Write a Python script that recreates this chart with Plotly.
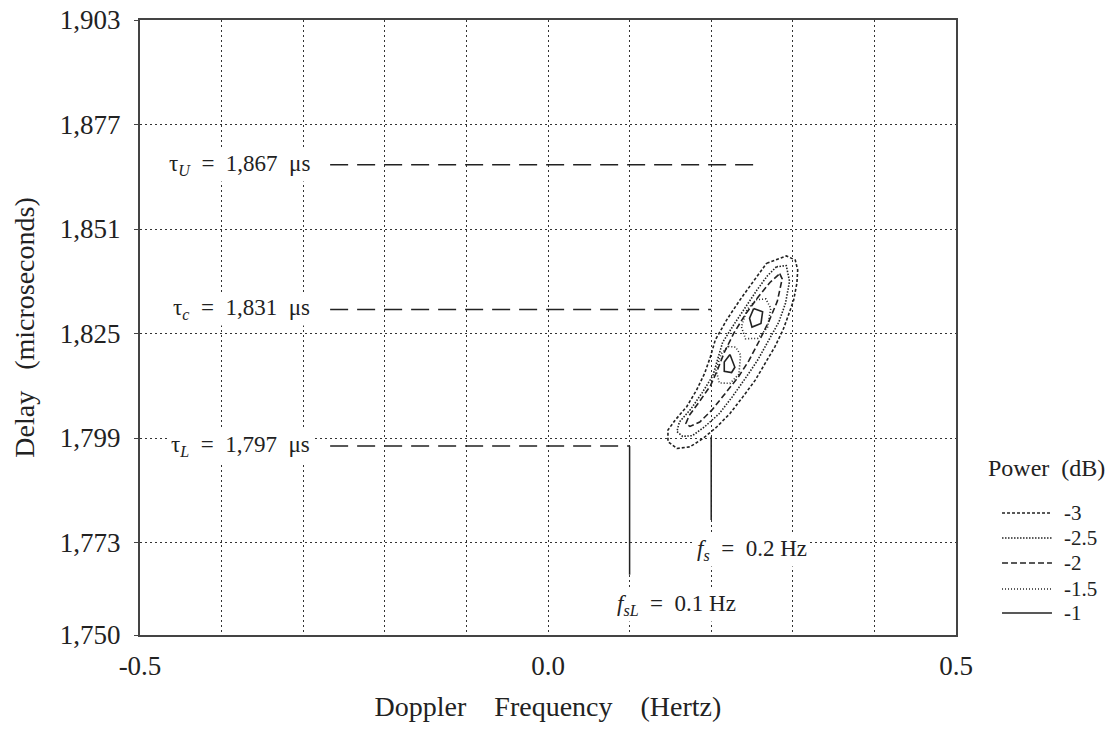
import plotly.graph_objects as go

FONT = "Liberation Serif"
INK = "#222222"

# ---- axes ----
freq_range = [-0.5, 0.5]
freq_ticks = [-0.5, 0.0, 0.5]
freq_ticktext = ["-0.5", "0.0", "0.5"]
delay_range = [1750, 1903]
delay_ticks = [1750, 1773, 1799, 1825, 1851, 1877, 1903]
delay_ticktext = ["1,750", "1,773", "1,799", "1,825", "1,851", "1,877", "1,903"]

# ---- reference delays / Doppler shifts ----
tau_names = ["U", "c", "L"]
tau_values = [1867, 1831, 1797]
tau_line_start = -0.267
tau_line_end = [0.256, 0.2, 0.1]

fs_names = ["s", "sL"]
fs_values = [0.2, 0.1]
fs_line_top = [1799.3, 1797]
fs_line_bottom = [1778.6, 1765]
fs_label_x = [0.250, 0.158]
fs_label_y = [1771.1, 1757.5]

# ---- contour lines (Doppler Hz, delay us) ----
levels = ["-3", "-2.5", "-2", "-1.5", "-1"]

c3_x = [0.268, 0.292, 0.303, 0.306, 0.305, 0.301, 0.294, 0.288, 0.278, 0.266, 0.254, 0.239, 0.223,
        0.207, 0.190, 0.174, 0.158, 0.147, 0.147, 0.156, 0.170, 0.182, 0.192, 0.199, 0.205, 0.219,
        0.235, 0.250, 0.264, 0.268]
c3_y = [1842.5, 1844.3, 1843.3, 1840.8, 1837.5, 1833.3, 1829.2, 1825.9, 1821.7, 1817.6, 1813.4, 1809.3,
        1805.1, 1801.8, 1798.9, 1796.8, 1796.4, 1798.1, 1801.0, 1803.5, 1806.8, 1810.9, 1815.1, 1819.2,
        1823.4, 1828.4, 1833.3, 1837.5, 1841.2, 1842.5]

c25_x = [0.280, 0.292, 0.296, 0.291, 0.283, 0.271, 0.257, 0.242, 0.226, 0.210, 0.192, 0.177, 0.165,
         0.158, 0.161, 0.175, 0.189, 0.202, 0.208, 0.214, 0.228, 0.242, 0.256, 0.269, 0.280]
c25_y = [1841.6, 1841.9, 1838.0, 1832.5, 1827.9, 1823.4, 1818.4, 1813.9, 1809.3, 1805.1, 1801.8, 1799.6,
         1799.4, 1800.6, 1803.0, 1806.2, 1810.3, 1814.5, 1818.6, 1822.8, 1827.3, 1831.7, 1835.8, 1839.4,
         1841.6]

c2_x = [0.284, 0.287, 0.281, 0.271, 0.259, 0.246, 0.233, 0.217, 0.201, 0.186, 0.174, 0.169, 0.173,
        0.185, 0.199, 0.208, 0.216, 0.228, 0.242, 0.258, 0.272, 0.284]
c2_y = [1839.9, 1838.6, 1833.0, 1828.2, 1823.2, 1818.2, 1814.1, 1810.0, 1806.0, 1803.0, 1801.9, 1802.6,
        1804.6, 1807.9, 1812.0, 1816.1, 1820.3, 1825.2, 1829.8, 1834.2, 1837.7, 1839.9]

c15_x = [0.255, 0.267, 0.273, 0.269, 0.257, 0.242, 0.237, 0.244, 0.255, None,
         0.221, 0.230, 0.236, 0.234, 0.223, 0.210, 0.206, 0.212, 0.221]
c15_y = [1833.4, 1833.6, 1831.3, 1826.5, 1823.8, 1823.7, 1826.7, 1831.0, 1833.4, None,
         1821.8, 1821.6, 1819.7, 1814.9, 1812.6, 1812.7, 1815.9, 1819.9, 1821.8]

c1_x = [0.252, 0.263, 0.261, 0.250, 0.247, 0.252, None,
        0.223, 0.229, 0.225, 0.216, 0.216, 0.223]
c1_y = [1831.2, 1830.4, 1827.5, 1826.6, 1828.8, 1831.2, None,
        1819.8, 1816.6, 1815.3, 1815.6, 1817.9, 1819.8]

contour_x = [c3_x, c25_x, c2_x, c15_x, c1_x]
contour_y = [c3_y, c25_y, c2_y, c15_y, c1_y]
contour_dash = ["3px,2px", "1.5px,1.5px", "6px,3px", "1px,2px", "solid"]

fig = go.Figure()

# tau reference lines
for name, tv, xe in zip(tau_names, tau_values, tau_line_end):
    fig.add_trace(go.Scatter(x=[tau_line_start, xe], y=[tv, tv], mode="lines",
                             line=dict(color=INK, width=1.5, dash="18px,9px"),
                             showlegend=False, hoverinfo="skip"))
# Doppler reference lines
for fv, yt, yb in zip(fs_values, fs_line_top, fs_line_bottom):
    fig.add_trace(go.Scatter(x=[fv, fv], y=[yt, yb], mode="lines",
                             line=dict(color=INK, width=1.5),
                             showlegend=False, hoverinfo="skip"))

# contours
for lv, cx, cy, dsh in zip(levels, contour_x, contour_y, contour_dash):
    fig.add_trace(go.Scatter(x=cx, y=cy, mode="lines", name=lv, showlegend=False,
                             line=dict(color=INK, width=1.6, dash=dsh),
                             connectgaps=False))

# annotations
tau_label_x = -0.288
for name, tv in zip(tau_names, tau_values):
    fig.add_annotation(x=tau_label_x, y=tv, xref="x", yref="y",
                       text=f"τ<sub><i>{name}</i></sub>\u00a0 = \u00a0{tv:,}\u00a0 μs",
                       showarrow=False, xanchor="right", yanchor="middle",
                       bgcolor="white", borderpad=2,
                       font=dict(family=FONT, size=23, color=INK))
for name, fv, lx, ly in zip(fs_names, fs_values, fs_label_x, fs_label_y):
    fig.add_annotation(x=lx, y=ly, xref="x", yref="y",
                       text=f"<i>f<sub>{name}</sub></i>\u00a0 = \u00a0{fv} Hz",
                       showarrow=False, xanchor="center", yanchor="middle",
                       bgcolor="white", borderpad=2,
                       font=dict(family=FONT, size=23, color=INK))

# legend (drawn by hand so the rows sit as tightly as in the original)
legend_title_pos = (1.1115, 0.2715)
legend_sample_x = (1.0564, 1.1176)
legend_label_x = 1.1299
legend_row_y = [0.1984, 0.1577, 0.1171, 0.0748, 0.0358]
fig.add_annotation(x=legend_title_pos[0], y=legend_title_pos[1], xref="paper", yref="paper",
                   text="Power\u00a0 (dB)", showarrow=False, xanchor="center", yanchor="middle",
                   font=dict(family=FONT, size=24, color=INK))
for lv, dsh, ry in zip(levels, contour_dash, legend_row_y):
    fig.add_shape(type="line", xref="paper", yref="paper",
                  x0=legend_sample_x[0], x1=legend_sample_x[1], y0=ry, y1=ry,
                  line=dict(color=INK, width=1.5, dash=dsh))
    fig.add_annotation(x=legend_label_x, y=ry, xref="paper", yref="paper",
                       text=lv, showarrow=False, xanchor="left", yanchor="middle",
                       font=dict(family=FONT, size=21, color=INK))

fig.update_layout(
    width=1120, height=730,
    margin=dict(l=140, r=164, t=20, b=95),
    paper_bgcolor="white", plot_bgcolor="white",
    font=dict(family=FONT, color=INK, size=24),
    showlegend=False,
    xaxis=dict(
        range=freq_range, tickvals=freq_ticks, ticktext=freq_ticktext,
        showline=True, linecolor="#444", linewidth=2, mirror=True,
        ticks="", tickfont=dict(family=FONT, size=27, color=INK),
        ticklabelstandoff=6, ticklabeloverflow="allow",
        showgrid=True, gridcolor="#333", gridwidth=1.3, griddash="2px,3px",
        minor=dict(dtick=0.1, showgrid=True, gridcolor="#333", gridwidth=1.3, griddash="2px,3px"),
        zeroline=False, automargin=False,
        title=dict(text="Doppler\u00a0\u00a0\u00a0 Frequency\u00a0\u00a0\u00a0 (Hertz)",
                   font=dict(family=FONT, size=28), standoff=16),
    ),
    yaxis=dict(
        range=delay_range, tickvals=delay_ticks, ticktext=delay_ticktext,
        showline=True, linecolor="#444", linewidth=2, mirror=True,
        ticks="outside", ticklen=4, tickcolor="#444",
        ticklabelstandoff=8, ticklabeloverflow="allow",
        tickfont=dict(family=FONT, size=27, color=INK),
        showgrid=True, gridcolor="#333", gridwidth=1.3, griddash="2px,3px",
        zeroline=False, automargin=False,
        title=dict(text="Delay\u00a0\u00a0 (microseconds)", font=dict(family=FONT, size=28), standoff=17),
    ),
)

fig.write_html("out.html", config={"displayModeBar": False},
               post_script="document.body.style.margin='0';")
